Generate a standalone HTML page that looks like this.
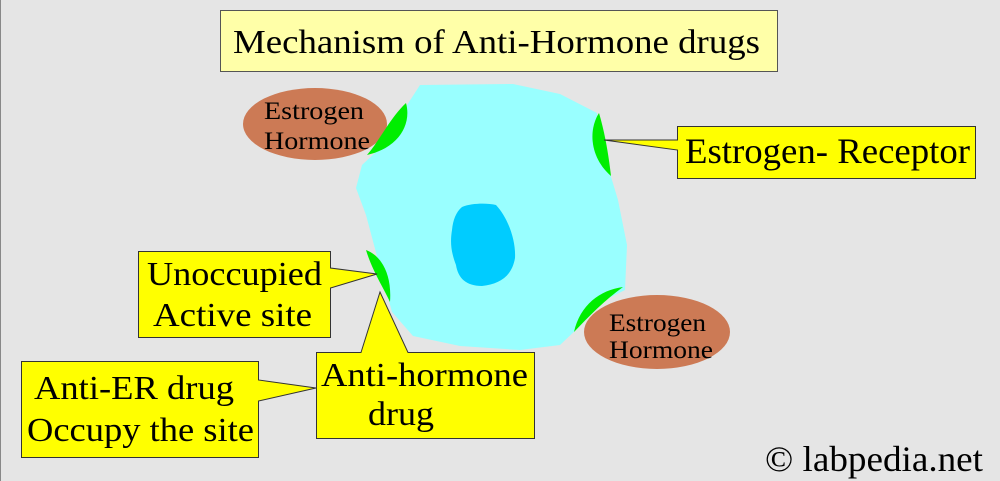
<!DOCTYPE html>
<html><head><meta charset="utf-8"><style>
html,body{margin:0;padding:0;background:#e5e5e5;}
svg{display:block;}
text{font-family:"Liberation Serif",serif;fill:#000;}
</style></head><body>
<svg width="1000" height="481" viewBox="0 0 1000 481">
<rect x="0" y="0" width="1000" height="481" fill="#e5e5e5"/>
<line x1="0.5" y1="0" x2="0.5" y2="481" stroke="#888" stroke-width="1"/>
<rect x="220.5" y="10.5" width="557" height="61" fill="#ffffa8" stroke="#555" stroke-width="1"/>
<text x="233" y="53" font-size="34" textLength="527" lengthAdjust="spacingAndGlyphs">Mechanism of Anti-Hormone drugs</text>
<path d="M420,85 L513,84 L560,94 L597,113 L606,160 L618,200 L627,245 L625,290 L605,300 L578,328 L560,345 L520,350 L460,346 L413,336 L392,312 L378,260 L366,215 L356,188 L362,165 L378,150 Z" fill="#99ffff"/>
<path d="M462,207 C472,203 487,203 496,205 C508,218 516,240 515,258 C512,276 500,284 482,286 C466,286 458,278 456,265 C451,252 450,242 452,230 C453,220 456,212 462,207 Z" fill="#00ccff"/>
<ellipse cx="315" cy="124" rx="72" ry="36" fill="#cc7a55"/>
<text x="264" y="119" font-size="25" textLength="100" lengthAdjust="spacingAndGlyphs">Estrogen</text>
<text x="264" y="149" font-size="25" textLength="106" lengthAdjust="spacingAndGlyphs">Hormone</text>
<ellipse cx="657" cy="332" rx="73" ry="37" fill="#cc7a55"/>
<text x="609" y="331" font-size="25" textLength="97" lengthAdjust="spacingAndGlyphs">Estrogen</text>
<text x="609" y="358" font-size="25" textLength="104" lengthAdjust="spacingAndGlyphs">Hormone</text>
<path d="M406,103 C412,125 398,148 367,155 C380,140 390,118 406,103 Z" fill="#00ee00"/>
<path d="M599,113 C588,130 590,158 611,176 C608,150 604,130 599,113 Z" fill="#00ee00"/>
<path d="M366,250 C382,256 392,275 390,302 C382,285 372,270 366,250 Z" fill="#00ee00"/>
<path d="M623,287 C600,290 580,305 574,332 C590,315 605,300 623,287 Z" fill="#00ee00"/>
<path d="M677.5,126.5 L975.5,126.5 L975.5,178.5 L677.5,178.5 L677.5,150 L604,140 L677.5,140 Z" fill="#ffff00" stroke="#333" stroke-width="1"/>
<text x="685" y="163" font-size="36" textLength="285" lengthAdjust="spacingAndGlyphs">Estrogen- Receptor</text>
<path d="M138.5,251.5 L330.5,251.5 L330.5,268 L377,274 L330.5,288 L330.5,337.5 L138.5,337.5 Z" fill="#ffff00" stroke="#333" stroke-width="1"/>
<text x="147" y="285" font-size="34" textLength="175" lengthAdjust="spacingAndGlyphs">Unoccupied</text>
<text x="153" y="326" font-size="34" textLength="159" lengthAdjust="spacingAndGlyphs">Active site</text>
<path d="M316.5,352.5 L361,352.5 L380,292 L408,352.5 L534.5,352.5 L534.5,438.5 L316.5,438.5 Z" fill="#ffff00" stroke="#333" stroke-width="1"/>
<text x="321" y="386" font-size="34" textLength="207" lengthAdjust="spacingAndGlyphs">Anti-hormone</text>
<text x="368" y="425" font-size="34" textLength="66" lengthAdjust="spacingAndGlyphs">drug</text>
<path d="M21.5,361.5 L258.5,361.5 L258.5,380 L316,388 L258.5,401 L258.5,457.5 L21.5,457.5 Z" fill="#ffff00" stroke="#333" stroke-width="1"/>
<text x="34" y="399" font-size="34" textLength="200" lengthAdjust="spacingAndGlyphs">Anti-ER drug</text>
<text x="27" y="441" font-size="34" textLength="227" lengthAdjust="spacingAndGlyphs">Occupy the site</text>
<text x="765" y="471" font-size="36" textLength="218" lengthAdjust="spacingAndGlyphs">© labpedia.net</text>
</svg>
</body></html>
